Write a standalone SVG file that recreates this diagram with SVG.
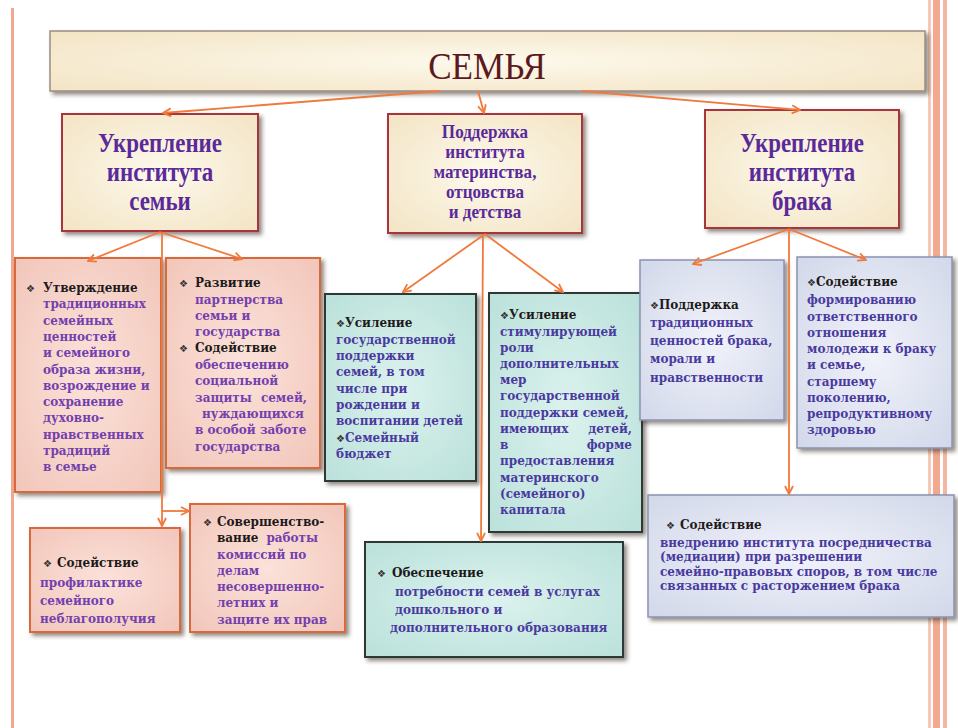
<svg xmlns="http://www.w3.org/2000/svg" width="958" height="728" viewBox="0 0 958 728">
<defs>
<filter id="sh" x="-10%" y="-10%" width="125%" height="125%"><feDropShadow dx="3" dy="3" stdDeviation="2" flood-color="#3a2a20" flood-opacity="0.55"/></filter>
<radialGradient id="gCream" cx="50%" cy="50%" r="70%"><stop offset="0" stop-color="#fdf9ec"/><stop offset="1" stop-color="#f3e4c4"/></radialGradient>
<radialGradient id="gPink" cx="50%" cy="50%" r="70%"><stop offset="0" stop-color="#fbe2da"/><stop offset="1" stop-color="#f2c6ba"/></radialGradient>
<radialGradient id="gTeal" cx="50%" cy="50%" r="70%"><stop offset="0" stop-color="#dcf2ee"/><stop offset="1" stop-color="#bae1da"/></radialGradient>
<radialGradient id="gBlue" cx="50%" cy="50%" r="70%"><stop offset="0" stop-color="#f1f3fa"/><stop offset="1" stop-color="#d2d8ea"/></radialGradient>
<marker id="ar" viewBox="0 0 10 10" refX="9" refY="5" markerWidth="10" markerHeight="10" markerUnits="userSpaceOnUse" orient="auto"><path d="M1,1 L9,5 L1,9" fill="none" stroke="#f07a3c" stroke-width="1.8"/></marker>
<style>
.cream{fill:url(#gCream);stroke:#a8343c;stroke-width:2;filter:url(#sh)}
.pink{fill:url(#gPink);stroke:#d9683a;stroke-width:2;filter:url(#sh)}
.teal{fill:url(#gTeal);stroke:#2e3836;stroke-width:2;filter:url(#sh)}
.blue{fill:url(#gBlue);stroke:#8a92b2;stroke-width:1.5;filter:url(#sh)}
.h2{font-family:"Liberation Serif",serif;font-weight:bold;fill:#5a2a9a;text-anchor:middle}
.t{font-family:"DejaVu Serif",serif;font-weight:bold;font-size:12px}
.hd{fill:#1e1a1a}
.pp{fill:#7440ae}
.bp{fill:#4a3aa0}
.bl{font-family:"DejaVu Sans",sans-serif;font-size:10px;fill:#333}
.c{fill:none;stroke:#f07a3c;stroke-width:1.8;marker-end:url(#ar)}
</style>
</defs>
<rect width="958" height="728" fill="#ffffff"/>
<rect x="11" y="8" width="3" height="720" fill="#f0a890"/>
<rect x="928" y="0" width="3" height="728" fill="#f6c8b8"/>
<rect x="933" y="0" width="7" height="728" fill="#f2a98f"/>
<rect x="943" y="0" width="4" height="728" fill="#f4b8a2"/>

<g id="title">
<rect x="50" y="31" width="875" height="60" fill="url(#gCream)" stroke="#9a8c84" stroke-width="1.5" filter="url(#sh)"/>
<g transform="translate(487,0) scale(0.9,1)"><text x="0" y="79" font-family="Liberation Serif,serif" font-size="39" fill="#5c1a1e" text-anchor="middle">СЕМЬЯ</text></g>
</g>

<g id="n-family">
<rect class="cream" x="62" y="114" width="196" height="117"/>
<g transform="translate(160,0) scale(0.82,1)"><text class="h2" font-size="28"><tspan x="0" y="152">Укрепление</tspan><tspan x="0" y="181">института</tspan><tspan x="0" y="210">семьи</tspan></text></g>
</g>
<g id="n-mother">
<rect class="cream" x="388" y="114" width="194" height="119"/>
<g transform="translate(485,0) scale(0.95,1)"><text class="h2" font-size="18"><tspan x="0" y="138">Поддержка</tspan><tspan x="0" y="158">института</tspan><tspan x="0" y="178">материнства,</tspan><tspan x="0" y="198">отцовства</tspan><tspan x="0" y="218">и детства</tspan></text></g>
</g>
<g id="n-marriage">
<rect class="cream" x="705" y="110" width="194" height="118"/>
<g transform="translate(802,0) scale(0.82,1)"><text class="h2" font-size="28"><tspan x="0" y="152">Укрепление</tspan><tspan x="0" y="181">института</tspan><tspan x="0" y="210">брака</tspan></text></g>
</g>

<g id="n-utv">
<rect class="pink" x="15" y="258" width="146" height="234"/>
<text class="t"><tspan class="bl" x="26" y="292">❖</tspan><tspan class="hd" x="43" y="292">Утверждение</tspan>
<tspan class="pp" x="43" y="308">традиционных</tspan><tspan class="pp" x="43" y="325">семейных</tspan><tspan class="pp" x="43" y="341">ценностей</tspan><tspan class="pp" x="43" y="357">и семейного</tspan><tspan class="pp" x="43" y="374">образа жизни,</tspan><tspan class="pp" x="43" y="390">возрождение и</tspan><tspan class="pp" x="43" y="406">сохранение</tspan><tspan class="pp" x="43" y="422">духовно-</tspan><tspan class="pp" x="43" y="439">нравственных</tspan><tspan class="pp" x="43" y="455">традиций</tspan><tspan class="pp" x="43" y="471">в семье</tspan></text>
</g>
<g id="n-razv">
<rect class="pink" x="166" y="258" width="154" height="210"/>
<text class="t"><tspan class="bl" x="179" y="287">❖</tspan><tspan class="hd" x="195" y="287">Развитие</tspan>
<tspan class="pp" x="195" y="304">партнерства</tspan><tspan class="pp" x="195" y="320">семьи и</tspan><tspan class="pp" x="195" y="336">государства</tspan>
<tspan class="bl" x="179" y="352">❖</tspan><tspan class="hd" x="195" y="352">Содействие</tspan>
<tspan class="pp" x="195" y="369">обеспечению</tspan><tspan class="pp" x="195" y="385">социальной</tspan><tspan class="pp" x="195" y="402">защиты</tspan><tspan class="pp" x="307" y="402" text-anchor="end">семей,</tspan><tspan class="pp" x="202" y="418">нуждающихся</tspan><tspan class="pp" x="195" y="434">в особой заботе</tspan><tspan class="pp" x="195" y="451">государства</tspan></text>
</g>
<g id="n-prof">
<rect class="pink" x="30" y="528" width="150" height="104"/>
<text class="t"><tspan class="bl" x="43" y="567">❖</tspan><tspan class="hd" x="57" y="567">Содействие</tspan>
<tspan class="pp" x="40" y="587">профилактике</tspan><tspan class="pp" x="40" y="605">семейного</tspan><tspan class="pp" x="40" y="623">неблагополучия</tspan></text>
</g>
<g id="n-sov">
<rect class="pink" x="190" y="504" width="155" height="128"/>
<text class="t"><tspan class="bl" x="203" y="526">❖</tspan><tspan class="hd" x="217" y="526">Совершенство-</tspan>
<tspan class="hd" x="217" y="542">вание</tspan><tspan class="pp" dx="8">работы</tspan><tspan class="pp" x="217" y="559">комиссий по</tspan><tspan class="pp" x="217" y="575">делам</tspan><tspan class="pp" x="217" y="591">несовершенно-</tspan><tspan class="pp" x="217" y="607">летних и</tspan><tspan class="pp" x="217" y="624">защите их прав</tspan></text>
</g>

<g id="n-usil1">
<rect class="teal" x="325" y="294" width="151" height="187"/>
<text class="t"><tspan class="bl" x="336" y="327">❖</tspan><tspan class="hd">Усиление</tspan>
<tspan class="bp" x="336" y="344">государственной</tspan><tspan class="bp" x="336" y="360">поддержки</tspan><tspan class="bp" x="336" y="376">семей, в том</tspan><tspan class="bp" x="336" y="393">числе при</tspan><tspan class="bp" x="336" y="409">рождении и</tspan><tspan class="bp" x="336" y="425">воспитании детей</tspan>
<tspan class="bl" x="336" y="442">❖</tspan><tspan class="bp">Семейный</tspan>
<tspan class="bp" x="336" y="458">бюджет</tspan></text>
</g>
<g id="n-usil2">
<rect class="teal" x="489" y="293" width="153" height="239"/>
<text class="t"><tspan class="bl" x="500" y="319">❖</tspan><tspan class="hd">Усиление</tspan>
<tspan class="bp" x="500" y="336">стимулирующей</tspan><tspan class="bp" x="500" y="352">роли</tspan><tspan class="bp" x="500" y="368">дополнительных</tspan><tspan class="bp" x="500" y="384">мер</tspan><tspan class="bp" x="500" y="400">государственной</tspan><tspan class="bp" x="500" y="417">поддержки семей,</tspan><tspan class="bp" x="500" y="433">имеющих</tspan><tspan class="bp" x="632" y="433" text-anchor="end">детей,</tspan><tspan class="bp" x="500" y="449">в</tspan><tspan class="bp" x="632" y="449" text-anchor="end">форме</tspan><tspan class="bp" x="500" y="465">предоставления</tspan><tspan class="bp" x="500" y="482">материнского</tspan><tspan class="bp" x="500" y="498">(семейного)</tspan><tspan class="bp" x="500" y="514">капитала</tspan></text>
</g>
<g id="n-obesp">
<rect class="teal" x="365" y="542" width="258" height="115"/>
<text class="t"><tspan class="bl" x="377" y="577">❖</tspan><tspan class="hd" x="392" y="577">Обеспечение</tspan>
<tspan class="bp" x="395" y="596">потребности семей в услугах</tspan><tspan class="bp" x="395" y="614">дошкольного и</tspan><tspan class="bp" x="390" y="632">дополнительного образования</tspan></text>
</g>

<g id="n-podd">
<rect class="blue" x="640" y="260" width="144" height="160"/>
<text class="t"><tspan class="bl" x="650" y="309">❖</tspan><tspan class="hd">Поддержка</tspan>
<tspan class="bp" x="650" y="327">традиционных</tspan><tspan class="bp" x="650" y="345">ценностей брака,</tspan><tspan class="bp" x="650" y="363">морали и</tspan><tspan class="bp" x="650" y="382">нравственности</tspan></text>
</g>
<g id="n-form">
<rect class="blue" x="797" y="257" width="155" height="191"/>
<text class="t"><tspan class="bl" x="807" y="286">❖</tspan><tspan class="hd">Содействие</tspan>
<tspan class="bp" x="807" y="304">формированию</tspan><tspan class="bp" x="807" y="321">ответственного</tspan><tspan class="bp" x="807" y="337">отношения</tspan><tspan class="bp" x="807" y="353">молодежи к браку</tspan><tspan class="bp" x="807" y="369">и семье,</tspan><tspan class="bp" x="807" y="386">старшему</tspan><tspan class="bp" x="807" y="402">поколению,</tspan><tspan class="bp" x="807" y="418">репродуктивному</tspan><tspan class="bp" x="807" y="434">здоровью</tspan></text>
</g>
<g id="n-med">
<rect class="blue" x="648" y="495" width="306" height="122"/>
<text class="t"><tspan class="bl" x="666" y="529">❖</tspan><tspan class="hd" x="680" y="529">Содействие</tspan>
<tspan class="bp" x="660" y="547">внедрению института посредничества</tspan><tspan class="bp" x="660" y="561">(медиации) при разрешении</tspan><tspan class="bp" x="660" y="576">семейно-правовых споров, в том числе</tspan><tspan class="bp" x="660" y="590">связанных с расторжением брака</tspan></text>
</g>

<g id="connectors">
<path class="c" d="M440,91 L163,113"/>
<path class="c" d="M478,91 L484,113"/>
<path class="c" d="M582,91 L800,110"/>
<path class="c" d="M160,232 L88,261"/>
<path class="c" d="M160,232 L242,259"/>
<path class="c" d="M162,232 L162,526"/>
<path class="c" d="M162,511 L189,511"/>
<path class="c" d="M485,234 L403,292"/>
<path class="c" d="M485,234 L563,292"/>
<path class="c" d="M483,234 L481,541"/>
<path class="c" d="M789,229 L693,264"/>
<path class="c" d="M789,229 L866,260"/>
<path class="c" d="M789,229 L789,494"/>
</g>
</svg>
